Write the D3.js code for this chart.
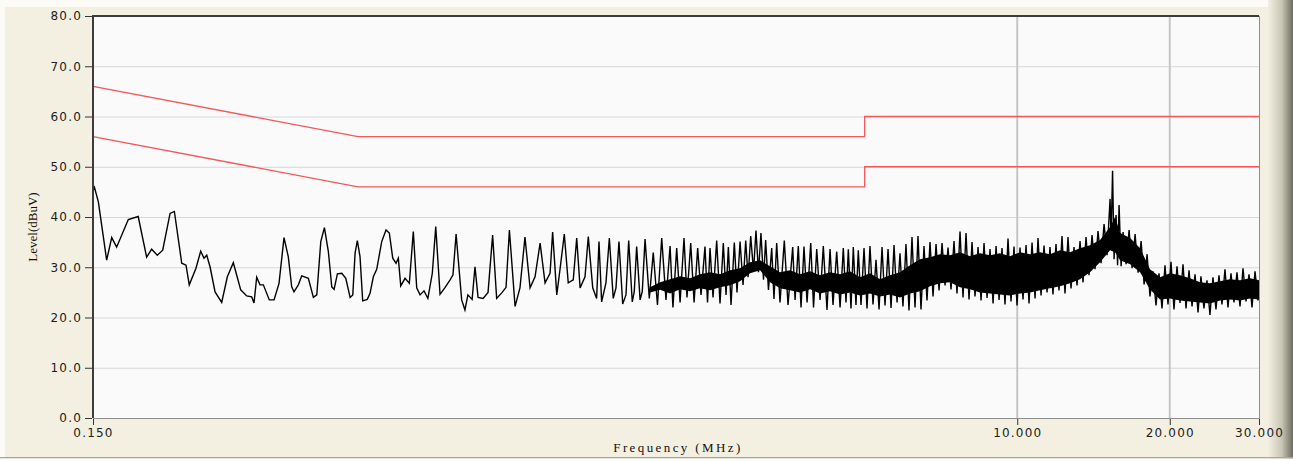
<!DOCTYPE html>
<html lang="en">
<head>
    <meta charset="UTF-8">
    <title>Conducted Emission Scan</title>
    <script src="https://cdnjs.cloudflare.com/ajax/libs/d3/7.8.5/d3.min.js"></script>
    <style>
        body { margin: 0; background: #f3f0e1; }
        svg { display: block; }
        .tick-label { font-family: "DejaVu Sans", Verdana, sans-serif; font-size: 12px; fill: #1c1c1c; letter-spacing: 1.2px; }
        .axis-title { font-family: "Liberation Serif", "Times New Roman", serif; fill: #111; }
    </style>
</head>
<body>
    <div id="chart"></div>

    <script>
        // Limit lines (EN 55022 class B style): quasi-peak and average
        const limitFreq = [0.15, 0.5, 5, 5, 30];
        const qpLimit = [66, 56, 56, 60, 60];
        const avLimit = [56, 46, 46, 50, 50];

        // Measured trace, 0.15 - 0.63 MHz
        const lowFreq = [0.150, 0.151, 0.1537, 0.1572, 0.1596, 0.1633, 0.1670, 0.1761, 0.1842, 0.1914, 0.1958, 0.2009, 0.2059,
            0.2129, 0.2171, 0.2245, 0.2289, 0.2323, 0.2395, 0.2447, 0.2484, 0.2515, 0.2553, 0.2612, 0.2692, 0.2762, 0.2838,
            0.2935, 0.3016, 0.3085, 0.3118, 0.3156, 0.3204, 0.3253, 0.3342, 0.3415, 0.3493, 0.3573, 0.3643, 0.3700, 0.3739,
            0.3813, 0.3873, 0.3991, 0.4083, 0.4147, 0.4223, 0.4293, 0.4371, 0.4439, 0.4486, 0.4554, 0.4646, 0.4731, 0.4825,
            0.4884, 0.4935, 0.4986, 0.5047, 0.5109, 0.5217, 0.5282, 0.5362, 0.5445, 0.5570, 0.5680, 0.5766, 0.5856, 0.5944,
            0.6007, 0.6073, 0.6193, 0.6315];
        const lowLevel = [45.2, 45.9, 43.0, 36.1, 31.4, 35.9, 34.0, 39.5, 40.1, 32.0, 33.6, 32.4, 33.4,
            40.7, 41.1, 30.8, 30.4, 26.5, 29.8, 33.2, 31.8, 32.4, 30.1, 25.1, 23.0, 28.1, 30.9,
            25.5, 24.3, 24.1, 22.9, 28.0, 26.5, 26.5, 23.5, 23.5, 26.8, 35.9, 32.1, 26.1, 25.1,
            26.5, 28.3, 27.8, 24.0, 24.5, 35.1, 37.9, 33.1, 26.1, 25.6, 28.7, 28.8, 27.8, 24.0,
            24.5, 32.8, 35.3, 32.1, 23.3, 23.6, 24.8, 28.1, 29.6, 35.1, 37.4, 36.8, 31.8, 30.8,
            31.8, 26.3, 27.8, 26.8];

        // Measured trace, 0.64 - 4.9 MHz (harmonic spikes)
        const midFreq = [0.643, 0.653, 0.663, 0.675, 0.687, 0.701, 0.712, 0.726, 0.743, 0.760, 0.770, 0.781, 0.801, 0.813,
            0.824, 0.840, 0.851, 0.863, 0.883, 0.903, 0.922, 0.939, 0.961, 0.980, 0.995, 1.021, 1.044, 1.068, 1.093, 1.118,
            1.144, 1.170, 1.197, 1.211, 1.234, 1.252, 1.277, 1.300, 1.330, 1.351, 1.372, 1.403, 1.424, 1.453, 1.479, 1.495,
            1.513, 1.543, 1.567, 1.595, 1.615, 1.637, 1.665, 1.690, 1.711, 1.739, 1.755, 1.774, 1.802, 1.820, 1.843, 1.879,
            1.913, 1.950, 1.988, 2.027, 2.065, 2.092, 2.128, 2.161, 2.200, 2.230, 2.268, 2.303, 2.341, 2.377, 2.420, 2.448,
            2.476, 2.510, 2.552, 2.591, 2.630, 2.663, 2.691, 2.724, 2.765, 2.799, 2.838, 2.877, 2.912, 2.943, 2.979, 3.017,
            3.051, 3.086, 3.121, 3.157, 3.188, 3.229, 3.277, 3.311, 3.352, 3.403, 3.470, 3.529, 3.605, 3.644, 3.698, 3.744,
            3.795, 3.848, 3.913, 3.963, 4.021, 4.082, 4.143, 4.213, 4.272, 4.330, 4.403, 4.471, 4.537, 4.593, 4.642, 4.698,
            4.748, 4.806, 4.857];
        const midLevel = [37.1, 25.9, 24.5, 25.3, 23.8, 28.8, 38.1, 24.6, 26.0, 27.5, 28.5, 36.6, 23.5, 21.5,
            24.5, 23.6, 30.1, 24.0, 23.8, 25.0, 36.4, 23.8, 24.9, 26.0, 37.4, 22.2, 25.9, 36.0, 25.9, 28.1,
            34.8, 26.9, 28.8, 37.0, 24.5, 29.5, 36.6, 26.9, 27.5, 35.8, 25.9, 28.1, 36.1, 25.9, 23.8, 35.1,
            23.1, 26.9, 35.8, 23.8, 25.9, 35.1, 22.7, 24.5, 35.3, 23.1, 25.2, 34.1, 23.5, 25.2, 35.6, 23.8,
            32.9, 22.5, 35.8, 23.5, 34.2, 22.0, 33.8, 23.0, 35.8, 24.0, 34.8, 23.0, 33.8, 24.5, 34.1, 23.0,
            33.8, 24.0, 35.3, 22.8, 34.8, 24.5, 34.0, 22.5, 34.9, 25.0, 35.1, 26.5, 35.3, 28.0, 36.2, 29.2,
            37.3, 29.0, 36.8, 27.5, 35.4, 25.5, 33.8, 23.7, 34.8, 23.0, 35.3, 22.5, 34.0, 23.5, 34.2, 22.0,
            34.1, 23.0, 34.8, 22.0, 33.6, 23.5, 34.2, 21.5, 33.6, 22.5, 33.1, 22.0, 33.8, 23.0, 33.6, 21.8,
            34.0, 22.5, 33.4];

        // Measured trace, 4.9 - 30 MHz (dense band: alternating peaks and dips)
        const highFreq = [4.917, 4.985, 5.053, 5.122, 5.193, 5.264, 5.337, 5.410, 5.484, 5.560, 5.636, 5.713, 5.792, 5.870,
            5.950, 6.032, 6.115, 6.199, 6.285, 6.371, 6.458, 6.547, 6.637, 6.728, 6.821, 6.915, 7.010, 7.106, 7.204, 7.302,
            7.402, 7.503, 7.606, 7.711, 7.817, 7.924, 8.033, 8.143, 8.255, 8.369, 8.484, 8.600, 8.719, 8.838, 8.960, 9.083,
            9.208, 9.331, 9.460, 9.590, 9.721, 9.855, 9.991, 10.128, 10.267, 10.408, 10.551, 10.696, 10.843, 10.992, 11.143,
            11.296, 11.451, 11.605, 11.764, 11.926, 12.090, 12.256, 12.425, 12.595, 12.768, 12.944, 13.122, 13.302, 13.485,
            13.670, 13.858, 14.048, 14.241, 14.437, 14.636, 14.837, 15.041, 15.248, 15.318, 15.422, 15.528, 15.670, 15.777,
            15.885, 16.031, 16.177, 16.400, 16.625, 16.853, 17.085, 17.320, 17.557, 17.799, 18.043, 18.280, 18.531, 18.786,
            19.044, 19.305, 19.571, 19.840, 20.112, 20.389, 20.669, 20.953, 21.241, 21.533, 21.829, 22.129, 22.432, 22.741,
            23.044, 23.361, 23.682, 24.007, 24.337, 24.672, 25.011, 25.354, 25.703, 26.056, 26.414, 26.777, 27.145, 27.518,
            27.897, 28.280, 28.670, 29.063, 29.462, 29.867, 30.000];
        const highLevel = [22.5, 33.8, 21.8, 34.2, 22.6, 31.5, 21.6, 34.0, 22.4, 33.6, 21.9, 34.4, 23.0, 32.8,
            22.2, 34.6, 21.4, 36.0, 22.0, 36.2, 21.6, 34.2, 23.4, 35.0, 24.2, 34.6, 25.4, 34.8, 26.4, 33.9,
            25.6, 35.2, 24.8, 37.1, 24.0, 36.8, 23.6, 35.0, 24.2, 34.0, 23.4, 34.8, 23.9, 33.6, 22.8, 34.2,
            23.5, 33.8, 22.6, 35.7, 23.2, 34.1, 22.4, 33.9, 23.6, 34.4, 22.8, 34.9, 23.8, 35.8, 24.4,
            34.3, 25.0, 34.0, 24.6, 34.6, 25.4, 36.2, 24.8, 36.0, 25.8, 34.0, 26.4, 35.2, 27.0,
            36.0, 28.4, 36.4, 29.6, 37.2, 30.8, 38.6, 32.4, 43.6, 35.6, 49.2, 31.6, 40.4, 30.4,
            42.4, 30.2, 37.0, 30.6, 37.4, 29.8, 36.6, 28.9, 35.2, 26.6, 32.6, 24.2, 29.2, 22.4,
            28.8, 21.8, 30.4, 22.6, 31.1, 21.6, 30.2, 22.9, 30.6, 21.8, 29.4, 22.2, 28.6, 21.0,
            28.2, 21.8, 27.4, 20.5, 28.0, 21.6, 28.4, 22.6, 29.6, 22.0, 28.8, 23.0, 29.0, 22.2,
            29.8, 23.2, 28.6, 22.0, 29.2, 23.4, 26.0];

        // Solid core of the dense band (where the sweep lines merge)
        const coreFreq = [1.885, 1.973, 2.065, 2.161, 2.261, 2.366, 2.476, 2.591, 2.712, 2.838, 2.969, 3.108, 3.252,
            3.403, 3.562, 3.727, 3.901, 4.082, 4.272, 4.471, 4.677, 4.895, 5.122, 5.361, 5.610, 5.870, 6.143, 6.429,
            6.728, 7.041, 7.368, 7.711, 8.070, 8.445, 8.838, 9.247, 9.677, 10.128, 10.599, 11.092, 11.605, 12.145,
            12.710, 13.302, 13.920, 14.570, 15.248, 15.598, 15.957, 16.700, 17.477, 18.280, 19.130, 20.02, 20.953,
            21.93, 22.94, 24.007, 25.125, 26.29, 27.518, 28.80, 30.0];
        const coreLow = [25.0, 25.5, 24.8, 25.6, 25.2, 25.8, 25.4, 26.0, 26.4, 27.2, 28.8, 29.4, 27.0,
            25.8, 25.4, 25.0, 25.6, 24.8, 25.2, 24.6, 25.0, 24.4, 24.8, 24.2, 24.6, 24.0, 24.8, 25.2,
            26.2, 26.8, 27.0, 26.0, 25.6, 25.0, 24.8, 24.6, 24.4, 24.8, 25.0, 25.4, 25.8, 26.2,
            26.8, 27.6, 29.0, 31.0, 33.4, 33.0, 31.4, 30.6, 29.0, 25.6, 23.6, 23.8, 23.4,
            23.2, 23.0, 22.8, 23.4, 23.6, 23.4, 23.8, 23.6];
        const coreHigh = [26.0, 27.0, 27.6, 28.2, 27.8, 28.6, 29.0, 28.6, 29.4, 29.8, 31.0, 31.4, 30.2,
            29.0, 29.4, 28.6, 29.2, 28.4, 29.0, 28.6, 29.2, 28.0, 28.8, 27.6, 28.4, 29.0, 30.4, 31.6,
            32.0, 32.6, 32.4, 33.0, 32.2, 32.8, 32.4, 32.8, 32.2, 33.0, 32.6, 33.0, 32.6, 33.4,
            33.0, 33.8, 34.4, 35.4, 38.0, 40.0, 36.8, 35.8, 33.8, 29.6, 28.0, 28.8, 28.4,
            27.8, 27.0, 26.8, 27.2, 27.6, 27.4, 27.8, 27.4];

        // Axis ticks
        const yTicks = [0, 10, 20, 30, 40, 50, 60, 70, 80];
        const xTicks = [0.15, 10, 20, 30];
        const xGrid = [10, 20];

        const width = 1293;
        const height = 461;
        const plot = { left: 93, top: 16, right: 1259, bottom: 418 };

        const svg = d3.select("#chart").append("svg")
            .attr("width", width)
            .attr("height", height);

        // Window frame
        const defs = svg.append("defs");
        const edge = defs.append("linearGradient").attr("id", "edge");
        edge.append("stop").attr("offset", "0%").attr("stop-color", "#f3f0e1");
        edge.append("stop").attr("offset", "55%").attr("stop-color", "#c9c6b6");
        edge.append("stop").attr("offset", "100%").attr("stop-color", "#6e6c60");

        svg.append("rect").attr("width", width).attr("height", height).attr("fill", "#f3f0e1");
        svg.append("rect").attr("width", width).attr("height", 7).attr("fill", "#fcfbf6");
        svg.append("rect").attr("width", 5).attr("height", height).attr("fill", "#fcfbf6");
        svg.append("rect").attr("x", 1268).attr("width", 25).attr("height", height).attr("fill", "url(#edge)");
        svg.append("rect").attr("y", 457).attr("width", width).attr("height", 1.5).attr("fill", "#a7a598");
        svg.append("rect").attr("y", 458.5).attr("width", width).attr("height", 3).attr("fill", "#fdfdfb");

        const x = d3.scaleLog().domain([0.15, 30]).range([plot.left, plot.right]);
        const y = d3.scaleLinear().domain([0, 80]).range([plot.bottom, plot.top]);

        // Plot background
        svg.append("rect")
            .attr("x", plot.left).attr("y", plot.top)
            .attr("width", plot.right - plot.left).attr("height", plot.bottom - plot.top)
            .attr("fill", "#fafafa");

        // Grid
        svg.append("g").selectAll("line")
            .data(yTicks.filter(d => d > 0 && d < 80))
            .join("line")
            .attr("x1", plot.left).attr("x2", plot.right)
            .attr("y1", d => y(d) + 0.5).attr("y2", d => y(d) + 0.5)
            .attr("stroke", "#d7d7d7").attr("stroke-width", 1.2);

        svg.append("g").selectAll("line")
            .data(xGrid)
            .join("line")
            .attr("x1", d => x(d)).attr("x2", d => x(d))
            .attr("y1", plot.top).attr("y2", plot.bottom)
            .attr("stroke", "#c6c6c6").attr("stroke-width", 2);

        // Limit lines
        const limitLine = d3.line().x((d, i) => x(limitFreq[i])).y(d => y(d));
        [qpLimit, avLimit].forEach(lim => {
            svg.append("path")
                .attr("d", limitLine(lim))
                .attr("fill", "none")
                .attr("stroke", "#f2575a")
                .attr("stroke-width", 1.3);
        });

        // Dense band core
        const core = coreFreq.map((f, i) => ({ f: f, lo: coreLow[i], hi: coreHigh[i] }));
        svg.append("path")
            .attr("d", d3.area().x(d => x(d.f)).y0(d => y(d.lo)).y1(d => y(d.hi))(core))
            .attr("fill", "#000");

        // Measurement trace
        const traceFreq = lowFreq.concat(midFreq, highFreq);
        const traceLevel = lowLevel.concat(midLevel, highLevel);
        const trace = traceFreq.map((f, i) => [f, traceLevel[i]]);
        svg.append("path")
            .attr("d", d3.line().x(d => x(d[0])).y(d => y(d[1]))(trace))
            .attr("fill", "none")
            .attr("stroke", "#000")
            .attr("stroke-width", 1.4)
            .attr("stroke-linejoin", "miter");

        // Plot border: dark on top/left, grey on right/bottom
        svg.append("line").attr("x1", plot.left).attr("x2", plot.right).attr("y1", plot.top).attr("y2", plot.top)
            .attr("stroke", "#3c3c3c").attr("stroke-width", 2);
        svg.append("line").attr("x1", plot.left).attr("x2", plot.left).attr("y1", plot.top - 1).attr("y2", plot.bottom)
            .attr("stroke", "#3c3c3c").attr("stroke-width", 2);
        svg.append("line").attr("x1", plot.right + 0.5).attr("x2", plot.right + 0.5).attr("y1", plot.top).attr("y2", plot.bottom + 1)
            .attr("stroke", "#8e8e8e").attr("stroke-width", 1);
        svg.append("line").attr("x1", plot.left).attr("x2", plot.right + 1).attr("y1", plot.bottom + 0.5).attr("y2", plot.bottom + 0.5)
            .attr("stroke", "#8e8e8e").attr("stroke-width", 1);

        // Y axis
        const yAxis = svg.append("g")
            .attr("transform", `translate(${plot.left - 1},0)`)
            .call(d3.axisLeft(y).tickValues(yTicks).tickFormat(d3.format(".1f")).tickSize(7).tickPadding(3));
        yAxis.select(".domain").remove();
        yAxis.selectAll("line").attr("stroke", "#333");
        yAxis.selectAll("text").attr("class", "tick-label").attr("fill", null).attr("font-size", null).attr("font-family", null);

        // X axis
        const xAxis = svg.append("g")
            .attr("transform", `translate(0,${plot.bottom + 1})`)
            .call(d3.axisBottom(x).tickValues(xTicks).tickFormat(d3.format(".3f")).tickSize(6).tickPadding(3));
        xAxis.select(".domain").remove();
        xAxis.selectAll("line").attr("stroke", "#333");
        xAxis.selectAll("text").attr("class", "tick-label").attr("fill", null).attr("font-size", null).attr("font-family", null);

        // Axis titles
        svg.append("text")
            .attr("class", "axis-title")
            .attr("x", 678).attr("y", 452)
            .attr("text-anchor", "middle")
            .attr("font-size", 13)
            .attr("letter-spacing", "2.4px")
            .text("Frequency (MHz)");

        svg.append("text")
            .attr("class", "axis-title")
            .attr("transform", "translate(37,227) rotate(-90)")
            .attr("text-anchor", "middle")
            .attr("font-size", 13)
            .text("Level(dBuV)");
    </script>
</body>
</html>
